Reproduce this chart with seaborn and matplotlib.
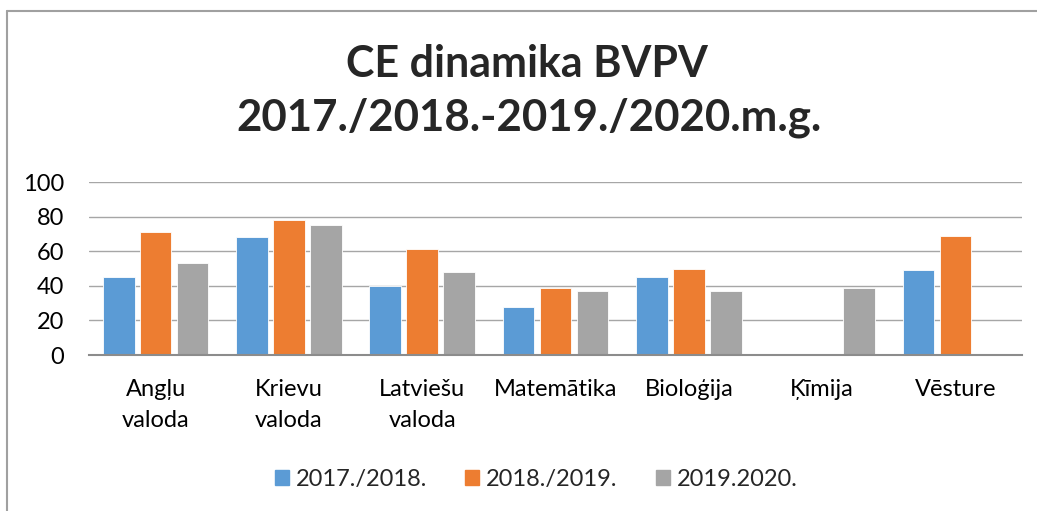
import matplotlib
matplotlib.use("Agg")
import matplotlib.pyplot as plt
import seaborn as sns
import pandas as pd
import numpy as np
from matplotlib.lines import Line2D

categories = ["Angļu\nvaloda", "Krievu\nvaloda", "Latviešu\nvaloda", "Matemātika",
              "Bioloģija", "Ķīmija", "Vēsture"]
series = ["2017./2018.", "2018./2019.", "2019.2020."]
v2017 = [45, 68, 40, 28, 45, np.nan, 49]
v2018 = [71, 78, 61, 39, 50, np.nan, 69]
v2019 = [53, 75, 48, 37, 37, 39, np.nan]
colors = ["#5b9bd5", "#ed7d31", "#a5a5a5"]

rows = []
for s, vals in zip(series, [v2017, v2018, v2019]):
    for c, v in zip(categories, vals):
        rows.append({"cat": c, "series": s, "val": v})
df = pd.DataFrame(rows)

sns.set_theme(style="white")
plt.rcParams['font.family'] = ['Lato', 'DejaVu Sans']

fig = plt.figure(figsize=(10.37, 5.11), dpi=100)
ax = fig.add_axes([89/1037, 1-355/511, (1022-89)/1037, (355-182)/511])

sns.barplot(data=df, x="cat", y="val", hue="series", order=categories,
            hue_order=series, palette=colors, width=0.83, gap=0.14,
            ax=ax, legend=True, saturation=1, edgecolor="white", linewidth=0.6)

ax.set_ylim(0, 100)
ax.set_xlim(-0.5, len(categories)-0.5)
ax.set_yticks([0, 20, 40, 60, 80, 100])
ax.yaxis.grid(True, color="#a6a6a6", linewidth=1)
ax.set_axisbelow(True)
for side in ["top", "right", "left"]:
    ax.spines[side].set_visible(False)
ax.spines["bottom"].set_color("#8c8c8c")
ax.spines["bottom"].set_linewidth(1.5)
ax.set_xlabel("")
ax.set_ylabel("")
ax.tick_params(axis="both", length=0, labelsize=17, colors="black")
ax.tick_params(axis="x", pad=17)
ax.tick_params(axis="y", pad=18)
for lbl in ax.get_xticklabels():
    lbl.set_linespacing(1.6)
    lbl.set_va("top")

ax.get_legend().remove()
handles = [plt.Rectangle((0, 0), 1, 1, color=c) for c in colors]
fig.legend(handles, series, loc="center", bbox_to_anchor=(0.517, 1-479/511),
           ncol=3, frameon=False, fontsize=17, handlelength=0.6, handleheight=0.6,
           handletextpad=0.3, columnspacing=1.6)

fig.text(0.508, 1-77/511, "CE dinamika BVPV", ha="center", va="baseline",
         fontsize=31, fontweight="bold")
fig.text(0.51, 1-130/511, "2017./2018.-2019./2020.m.g.", ha="center", va="baseline",
         fontsize=31.5, fontweight="bold")

fig.add_artist(Line2D([7/1037, 7/1037], [0, 1-11/511], color="#a0a0a0", lw=1.5,
                      transform=fig.transFigure))
fig.add_artist(Line2D([7/1037, 1], [1-11/511, 1-11/511], color="#a0a0a0", lw=1.5,
                      transform=fig.transFigure))

fig.savefig("out.png", dpi=100)
